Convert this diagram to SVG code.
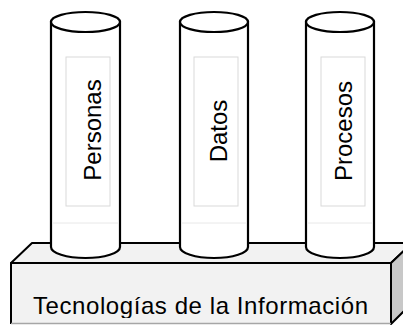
<svg xmlns="http://www.w3.org/2000/svg" width="403" height="326" viewBox="0 0 403 326">
  <style>
    .edge { stroke: #000; stroke-width: 2; stroke-linejoin: round; }
    .face { fill: #f2f2f2; }
    .side { fill: #c8c8c8; }
    .cyl { fill: #fff; stroke: #000; stroke-width: 2.2; }
    .inner { fill: none; stroke: #d9d9d9; stroke-width: 1; }
    .faint { stroke: #e8e8e8; stroke-width: 1; }
    .lbl { font-family: "Liberation Sans", Arial, sans-serif; font-size: 24px; fill: #000; text-anchor: middle; }
  </style>
  <defs>
    <clipPath id="baseclip"><rect x="0" y="0" width="403" height="318"/></clipPath>
  </defs>
  <rect width="403" height="326" fill="#fff"/>

  <g id="base">
    <polygon class="face edge" points="11,263 32,243 412,243 391,263"/>
    <polygon class="side edge" points="391,263 412,243 412,303 391,324"/>
    <rect class="face" x="11" y="263" width="380" height="61"/>
    <polyline class="edge" fill="none" points="11,324 11,263 391,263 391,324"/>
    <line x1="11" y1="323.5" x2="391" y2="323.5" stroke="#a6a6a6" stroke-width="1.5"/>
    <text class="lbl" x="200.5" y="314" textLength="335" lengthAdjust="spacing" clip-path="url(#baseclip)">Tecnologías de la Información</text>
  </g>

  <g id="personas">
    <path class="cyl" d="M51,22 V247 A34.5,11 0 0 0 120,247 V22 Z"/>
    <line class="faint" x1="52" y1="223" x2="119" y2="223"/>
    <ellipse class="cyl" cx="85.5" cy="22" rx="34.5" ry="10"/>
    <rect class="inner" x="66" y="57" width="44" height="149"/>
    <text class="lbl" transform="translate(101,130) rotate(-90)">Personas</text>
  </g>

  <g id="datos">
    <path class="cyl" d="M180,22 V247 A34,11 0 0 0 248,247 V22 Z"/>
    <line class="faint" x1="181" y1="223" x2="247" y2="223"/>
    <ellipse class="cyl" cx="214" cy="22" rx="34" ry="10"/>
    <rect class="inner" x="194" y="57" width="44" height="149"/>
    <text class="lbl" transform="translate(227,131) rotate(-90)">Datos</text>
  </g>

  <g id="procesos">
    <path class="cyl" d="M306,22 V247 A34,11 0 0 0 374,247 V22 Z"/>
    <line class="faint" x1="307" y1="223" x2="373" y2="223"/>
    <ellipse class="cyl" cx="340" cy="22" rx="34" ry="10"/>
    <rect class="inner" x="321" y="57" width="44" height="149"/>
    <text class="lbl" transform="translate(352,131) rotate(-90)">Procesos</text>
  </g>
</svg>
